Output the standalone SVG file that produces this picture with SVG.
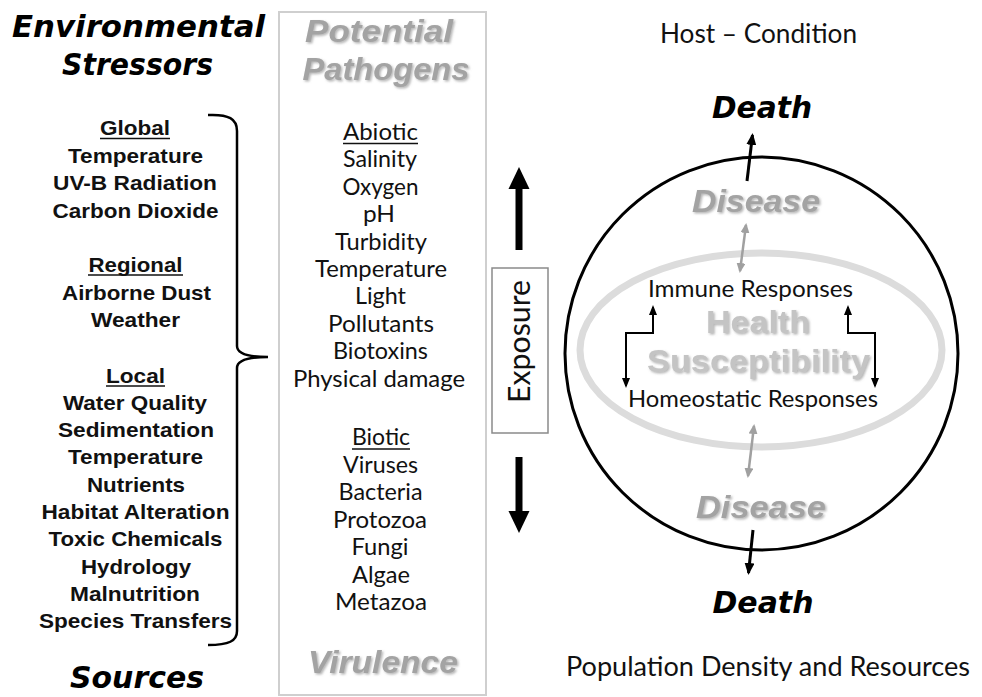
<svg xmlns="http://www.w3.org/2000/svg" width="982" height="697" viewBox="0 0 982 697">
<style>
.title{font-family:"DejaVu Sans",Verdana,sans-serif;font-weight:bold;font-style:italic;font-size:30px;fill:#000;text-anchor:middle}
.left{font-family:"Liberation Sans",Arial,sans-serif;font-weight:bold;font-size:21px;fill:#111;text-anchor:middle}
.mid{font-family:Lato,"Open Sans",sans-serif;font-size:24px;fill:#111;text-anchor:middle}
.cal{font-family:Lato,"Open Sans",sans-serif;fill:#111;text-anchor:middle}
.gray{font-family:"Liberation Sans",Arial,sans-serif;font-weight:bold;font-style:italic;font-size:31px;fill:#a3a3a3;text-anchor:middle}
.grayb{font-family:"Liberation Sans",Arial,sans-serif;font-weight:bold;font-size:31px;fill:#c4c4c4;text-anchor:middle}
.ul{stroke:#111;stroke-width:1.6}
</style>
<defs>
<filter id="sh" x="-10%" y="-20%" width="130%" height="150%">
<feDropShadow dx="1.5" dy="1.5" stdDeviation="1" flood-color="#777" flood-opacity="0.55"/>
</filter>
<marker id="ahb" viewBox="0 0 12 10" refX="10" refY="5" markerWidth="12" markerHeight="10" markerUnits="userSpaceOnUse" orient="auto-start-reverse">
<path d="M0,0 L12,5 L0,10 z" fill="#000"/>
</marker>
<marker id="ahs" viewBox="0 0 10 8" refX="8" refY="4" markerWidth="10" markerHeight="8" markerUnits="userSpaceOnUse" orient="auto-start-reverse">
<path d="M0,0 L10,4 L0,8 z" fill="#000"/>
</marker>
<marker id="ahg" viewBox="0 0 10 9" refX="8" refY="4.5" markerWidth="10" markerHeight="9" markerUnits="userSpaceOnUse" orient="auto-start-reverse">
<path d="M0,0 L10,4.5 L0,9 z" fill="#a0a0a0"/>
</marker>
</defs>
<rect width="982" height="697" fill="#fff"/>

<g id="stressors">
<text class="title" x="138.5" y="37" textLength="253" lengthAdjust="spacingAndGlyphs">Environmental</text>
<text class="title" x="137.5" y="75" textLength="151" lengthAdjust="spacingAndGlyphs">Stressors</text>
<text class="left" x="135" y="135" textLength="70" lengthAdjust="spacingAndGlyphs">Global</text>
<line class="ul" x1="100" y1="138.5" x2="170" y2="138.5"/>
<text class="left" x="135.5" y="162.5" textLength="135" lengthAdjust="spacingAndGlyphs">Temperature</text>
<text class="left" x="135" y="190" textLength="164" lengthAdjust="spacingAndGlyphs">UV-B Radiation</text>
<text class="left" x="135.5" y="217.5" textLength="166" lengthAdjust="spacingAndGlyphs">Carbon Dioxide</text>
<text class="left" x="135.5" y="272" textLength="94" lengthAdjust="spacingAndGlyphs">Regional</text>
<line class="ul" x1="88" y1="275" x2="183" y2="275"/>
<text class="left" x="136.5" y="299.5" textLength="149" lengthAdjust="spacingAndGlyphs">Airborne Dust</text>
<text class="left" x="135.5" y="327" textLength="89" lengthAdjust="spacingAndGlyphs">Weather</text>
<text class="left" x="135.5" y="382.5" textLength="59" lengthAdjust="spacingAndGlyphs">Local</text>
<line class="ul" x1="106" y1="386" x2="165" y2="386"/>
<text class="left" x="135" y="409.8" textLength="144" lengthAdjust="spacingAndGlyphs">Water Quality</text>
<text class="left" x="136" y="437.1" textLength="156" lengthAdjust="spacingAndGlyphs">Sedimentation</text>
<text class="left" x="135.5" y="464.4" textLength="135" lengthAdjust="spacingAndGlyphs">Temperature</text>
<text class="left" x="136" y="491.7" textLength="98" lengthAdjust="spacingAndGlyphs">Nutrients</text>
<text class="left" x="135.5" y="519" textLength="188" lengthAdjust="spacingAndGlyphs">Habitat Alteration</text>
<text class="left" x="135.5" y="546.3" textLength="174" lengthAdjust="spacingAndGlyphs">Toxic Chemicals</text>
<text class="left" x="136" y="573.6" textLength="110" lengthAdjust="spacingAndGlyphs">Hydrology</text>
<text class="left" x="135" y="600.9" textLength="130" lengthAdjust="spacingAndGlyphs">Malnutrition</text>
<text class="left" x="135.5" y="628" textLength="193" lengthAdjust="spacingAndGlyphs">Species Transfers</text>
<text class="title" x="137" y="688" textLength="134" lengthAdjust="spacingAndGlyphs">Sources</text>
<path d="M208,115 C229,114 237,119 237,131 L237,346 C237,353 246,357 268,357 C246,357 237,361 237,368 L237,631 C237,641 229,645 208,645" fill="none" stroke="#000" stroke-width="2.5"/>
</g>

<g id="pathogens">
<rect x="279" y="12" width="207" height="683" fill="none" stroke="#cfcfcf" stroke-width="2"/>
<g filter="url(#sh)">
<text class="gray" x="379" y="42" textLength="148" lengthAdjust="spacingAndGlyphs">Potential</text>
<text class="gray" x="386" y="80" textLength="167" lengthAdjust="spacingAndGlyphs">Pathogens</text>
<text class="gray" x="383" y="673" textLength="150" lengthAdjust="spacingAndGlyphs">Virulence</text>
</g>
<text class="mid" x="380.5" y="140" textLength="75" lengthAdjust="spacingAndGlyphs">Abiotic</text>
<line class="ul" x1="343" y1="143.5" x2="418" y2="143.5"/>
<text class="mid" x="380" y="167.4" textLength="74" lengthAdjust="spacingAndGlyphs">Salinity</text>
<text class="mid" x="380.5" y="194.8" textLength="76" lengthAdjust="spacingAndGlyphs">Oxygen</text>
<text class="mid" x="379" y="222.2" textLength="32" lengthAdjust="spacingAndGlyphs">pH</text>
<text class="mid" x="381" y="249.6" textLength="92" lengthAdjust="spacingAndGlyphs">Turbidity</text>
<text class="mid" x="381" y="277" textLength="132" lengthAdjust="spacingAndGlyphs">Temperature</text>
<text class="mid" x="380.5" y="304.4" textLength="51" lengthAdjust="spacingAndGlyphs">Light</text>
<text class="mid" x="381" y="331.8" textLength="106" lengthAdjust="spacingAndGlyphs">Pollutants</text>
<text class="mid" x="380.5" y="359.2" textLength="95" lengthAdjust="spacingAndGlyphs">Biotoxins</text>
<text class="mid" x="379" y="386.6" textLength="172" lengthAdjust="spacingAndGlyphs">Physical damage</text>
<text class="mid" x="381" y="445" textLength="58" lengthAdjust="spacingAndGlyphs">Biotic</text>
<line class="ul" x1="352" y1="449" x2="410" y2="449"/>
<text class="mid" x="380.5" y="472.5" textLength="75" lengthAdjust="spacingAndGlyphs">Viruses</text>
<text class="mid" x="380.5" y="500" textLength="84" lengthAdjust="spacingAndGlyphs">Bacteria</text>
<text class="mid" x="380" y="527.5" textLength="94" lengthAdjust="spacingAndGlyphs">Protozoa</text>
<text class="mid" x="380" y="555" textLength="57" lengthAdjust="spacingAndGlyphs">Fungi</text>
<text class="mid" x="381" y="582.5" textLength="58" lengthAdjust="spacingAndGlyphs">Algae</text>
<text class="mid" x="381" y="610" textLength="92" lengthAdjust="spacingAndGlyphs">Metazoa</text>
</g>

<g id="exposure">
<rect x="492" y="268" width="56" height="165" fill="#fff" stroke="#8a8a8a" stroke-width="1.5"/>
<text class="cal" font-size="30" transform="translate(530,341.5) rotate(-90)" x="0" y="0" textLength="123" lengthAdjust="spacingAndGlyphs">Exposure</text>
</g>

<g id="host">
<text class="cal" font-size="26" x="758.5" y="43" textLength="197" lengthAdjust="spacingAndGlyphs">Host – Condition</text>
<ellipse cx="761" cy="350" rx="181" ry="97" fill="none" stroke="#dcdcdc" stroke-width="7"/>
<circle cx="761.5" cy="353.5" r="196.5" fill="none" stroke="#000" stroke-width="3"/>
<text class="title" x="762" y="118" textLength="100" lengthAdjust="spacingAndGlyphs">Death</text>
<text class="title" x="763" y="613" textLength="101" lengthAdjust="spacingAndGlyphs">Death</text>
<g filter="url(#sh)">
<text class="gray" x="756" y="212" textLength="128" lengthAdjust="spacingAndGlyphs">Disease</text>
<text class="gray" x="761" y="518" textLength="130" lengthAdjust="spacingAndGlyphs">Disease</text>
<text class="grayb" x="758" y="333" textLength="104" lengthAdjust="spacingAndGlyphs">Health</text>
<text class="grayb" x="758.5" y="372" textLength="223" lengthAdjust="spacingAndGlyphs">Susceptibility</text>
</g>
<text class="cal" font-size="24" x="750.5" y="297" textLength="205" lengthAdjust="spacingAndGlyphs">Immune Responses</text>
<text class="cal" font-size="24" x="753" y="407" textLength="250" lengthAdjust="spacingAndGlyphs">Homeostatic Responses</text>
<text class="cal" font-size="27" x="768" y="676" textLength="404" lengthAdjust="spacingAndGlyphs">Population Density and Resources</text>
</g>

<g id="connectors" fill="none">
<line x1="519" y1="250" x2="519" y2="185" stroke="#000" stroke-width="7"/>
<path d="M519,167 L508.5,189 L529.5,189 z" fill="#000"/>
<line x1="519" y1="457" x2="519" y2="515" stroke="#000" stroke-width="7"/>
<path d="M519,533 L508.5,511 L529.5,511 z" fill="#000"/>
<line x1="747" y1="181" x2="752.5" y2="135" stroke="#000" stroke-width="3" marker-end="url(#ahb)"/>
<line x1="753" y1="530" x2="748.5" y2="573" stroke="#000" stroke-width="3" marker-end="url(#ahb)"/>
<line x1="746" y1="225" x2="740" y2="271" stroke="#a0a0a0" stroke-width="2.5" marker-start="url(#ahg)" marker-end="url(#ahg)"/>
<line x1="754" y1="426" x2="748" y2="476" stroke="#a0a0a0" stroke-width="2.5" marker-start="url(#ahg)" marker-end="url(#ahg)"/>
<path d="M653,307 L653,333 L626,333 L626,386" stroke="#000" stroke-width="2" marker-start="url(#ahs)" marker-end="url(#ahs)"/>
<path d="M848,307 L848,333 L875,333 L875,386" stroke="#000" stroke-width="2" marker-start="url(#ahs)" marker-end="url(#ahs)"/>
</g>
</svg>
